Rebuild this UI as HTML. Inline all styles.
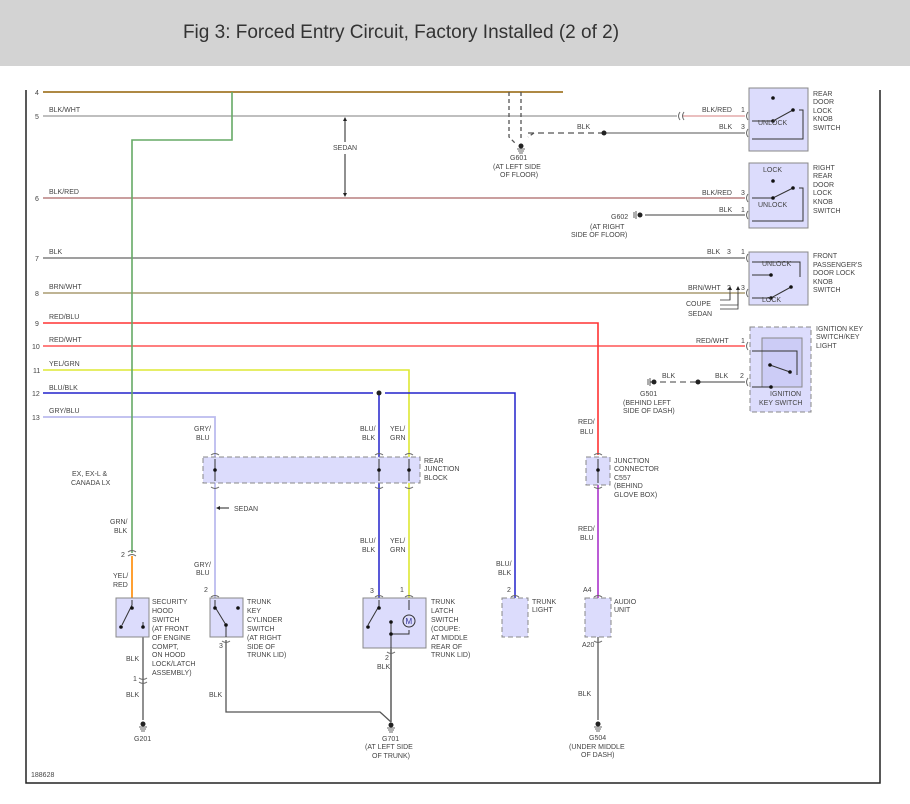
<!DOCTYPE html>
<html><head><meta charset="utf-8"><style>
html,body{margin:0;padding:0;background:#fff;}
svg{display:block}
text{font-family:"Liberation Sans",sans-serif;font-size:7px;fill:#444;}
.t{font-size:19px;fill:#333;}
</style></head><body>
<svg width="910" height="804" viewBox="0 0 910 804" xmlns="http://www.w3.org/2000/svg">
<rect x="0" y="0" width="910" height="66" fill="#d3d3d3"/>
<text x="401" y="38" class="t" text-anchor="middle">Fig 3: Forced Entry Circuit, Factory Installed (2 of 2)</text>
<!-- frame -->
<path d="M26 90 V783 H880 V90" fill="none" stroke="#222" stroke-width="1.5"/>

<!-- wires -->
<g fill="none" stroke-width="1.3">
<line x1="43" y1="92" x2="563" y2="92" stroke="#a3782a" stroke-width="1.8"/>
<line x1="43" y1="116" x2="677" y2="116" stroke="#999"/>
<line x1="683" y1="116" x2="745" y2="116" stroke="#d99"/>
<line x1="43" y1="198" x2="745" y2="198" stroke="#a66" />
<line x1="43" y1="258" x2="745" y2="258" stroke="#666"/>
<line x1="43" y1="293" x2="745" y2="293" stroke="#998855"/>
<path d="M43 323 H598 V455" stroke="#f33" stroke-width="1.6"/>
<line x1="43" y1="346" x2="745" y2="346" stroke="#f33"/>
<path d="M43 370 H409 V598" stroke="#dde833" stroke-width="1.6"/>
<path d="M43 393 H373 M385 393 H515 V598" stroke="#22c" stroke-width="1.5"/>
<line x1="379" y1="393" x2="379" y2="598" stroke="#22c" stroke-width="1.5"/>
<path d="M43 417 H215 V598" stroke="#bbe" stroke-width="1.8"/>
<path d="M232 92 V140 H132 V553" stroke="#6a6" stroke-width="1.6"/>
<line x1="132" y1="556" x2="132" y2="600" stroke="#f80" stroke-width="1.6"/>
<line x1="598" y1="485" x2="598" y2="598" stroke="#a3c" stroke-width="1.6"/>
<line x1="598" y1="637" x2="598" y2="720" stroke="#777" stroke-width="1.6"/>
<line x1="143" y1="627" x2="143" y2="720" stroke="#555" stroke-width="1.3"/>
<path d="M226 640 V712 H380 L391 722" stroke="#555"/>
<line x1="391" y1="648" x2="391" y2="722" stroke="#666" stroke-width="1.6"/>
<!-- G601 -->
<path d="M509 92 V137 L515 143 M521 92 V140 M534 133 L528 137" stroke="#555" stroke-dasharray="4,3"/>
<line x1="528" y1="133" x2="604" y2="133" stroke="#555" stroke-dasharray="6,4"/>
<line x1="604" y1="133" x2="745" y2="133" stroke="#777"/>
<!-- G602 -->
<line x1="645" y1="215" x2="745" y2="215" stroke="#666"/>
<!-- G501 -->
<line x1="650" y1="382" x2="698" y2="382" stroke="#666" stroke-dasharray="6,4"/>
<line x1="698" y1="382" x2="745" y2="382" stroke="#666"/>
<!-- sedan arrow -->
<path d="M345 120 V142 M345 154 V195" stroke="#222" stroke-width="1"/>
<path d="M238 468 H254 M217 508 H229" stroke="#222" stroke-width="1"/>
<path d="M810 300 V287 M800 305 H818 V287" stroke="#444" stroke-width="0.8" transform="translate(-80,0)"/>
</g>
<g fill="#222">
<path d="M345 117 l-2 4 h4z M345 197 l-2 -4 h4z"/>
<path d="M255 468 l-4 -2 v4z M216 508 l4 -2 v4z"/>
<path d="M730 286 l-2 4 h4z M738 286 l-2 4 h4z"/>
<circle cx="604" cy="133" r="2.5"/><circle cx="379" cy="393" r="2.5"/><circle cx="698" cy="382" r="2.5"/>
<circle cx="521" cy="146" r="2.5"/><circle cx="640" cy="215" r="2.5"/><circle cx="654" cy="382" r="2.5"/>
<circle cx="143" cy="724" r="2.5"/><circle cx="391" cy="725" r="2.5"/><circle cx="598" cy="724" r="2.5"/>
</g>
<g stroke="#333" stroke-width="0.8" fill="none">
<path d="M517 149 h8 M518 151 h6 M519 153 h4"/>
<path d="M139 727 h8 M140 729 h6 M141 731 h4"/>
<path d="M387 728 h8 M388 730 h6 M389 732 h4"/>
<path d="M594 727 h8 M595 729 h6 M596 731 h4"/>
<path d="M636 211 v8 M634 212 v6 M650 378 v8 M648 379 v6"/>
<path d="M730 293 V300 H720 M738 293 V309 H720" />
</g>
<g fill="none" stroke="#666" stroke-width="1"> <!-- connector arcs -->
<path d="M680 112 q-3 4 0 8 M684 112 q-3 4 0 8"/>
<path d="M748 112 q-3 4 0 8 M748 129 q-3 4 0 8 M748 194 q-3 4 0 8 M748 211 q-3 4 0 8 M748 254 q-3 4 0 8 M748 289 q-3 4 0 8 M748 342 q-3 4 0 8 M748 378 q-3 4 0 8"/>
<path d="M128 552 q4 -3 8 0 M128 556 q4 -3 8 0 M139 678 q4 3 8 0 M139 682 q4 3 8 0"/>
<path d="M211 455 q4 -3 8 0 M375 455 q4 -3 8 0 M405 455 q4 -3 8 0 M594 455 q4 -3 8 0 M211 487 q4 3 8 0 M375 487 q4 3 8 0 M405 487 q4 3 8 0 M594 487 q4 3 8 0"/>
<path d="M211 597 q4 -3 8 0 M375 597 q4 -3 8 0 M405 597 q4 -3 8 0 M511 597 q4 -3 8 0 M594 597 q4 -3 8 0 M222 641 q4 3 8 0 M387 652 q4 3 8 0 M594 641 q4 3 8 0"/>
</g>

<!-- boxes -->
<g fill="#dcdcfc" stroke="#888" stroke-width="1">
<rect x="749" y="88" width="59" height="63"/>
<rect x="749" y="163" width="59" height="65"/>
<rect x="749" y="252" width="59" height="53"/>
<rect x="750" y="327" width="61" height="85" stroke-dasharray="5,3"/>
<rect x="762" y="338" width="40" height="49" fill="#ccccf6"/>
<rect x="203" y="457" width="217" height="26" stroke-dasharray="5,3"/>
<rect x="586" y="457" width="24" height="28" stroke-dasharray="5,3"/>
<rect x="116" y="598" width="33" height="39"/>
<rect x="210" y="598" width="33" height="39"/>
<rect x="363" y="598" width="63" height="50"/>
<rect x="502" y="598" width="26" height="39" stroke-dasharray="5,3"/>
<rect x="585" y="598" width="26" height="39" stroke-dasharray="5,3"/>
</g>
<!-- switch internals -->
<g stroke="#333" stroke-width="1" fill="none">
<path d="M752 121 H773 L793 110 M799 110 H803 V139 H752"/>
<path d="M752 198 H773 L793 188 M799 188 H803 V221 H752"/>
<path d="M752 262 H800 V277 M752 275 H771 M752 298 H771 L791 287"/>
<path d="M752 351 H797 V375 M770 365 L790 372 M752 387 H771"/>
<path d="M132 600 V605 L122 625 M143 627 V622"/>
<path d="M215 600 V607 L226 625 V637"/>
<path d="M379 600 V606 L368 625 M409 600 V610 M409 630 V634 H391 M391 622 V648"/>
<path d="M215 459 V481 M379 459 V481 M409 459 V481 M598 459 V483"/>
</g>
<circle cx="409" cy="621" r="6" fill="#dcdcfc" stroke="#333"/>
<text x="405.5" y="624" style="font-size:8px;fill:#339">M</text>
<g fill="#111">
<circle cx="773" cy="98" r="1.8"/><circle cx="773" cy="121" r="1.8"/><circle cx="793" cy="110" r="1.8"/>
<circle cx="773" cy="181" r="1.8"/><circle cx="773" cy="198" r="1.8"/><circle cx="793" cy="188" r="1.8"/>
<circle cx="771" cy="275" r="1.8"/><circle cx="771" cy="298" r="1.8"/><circle cx="791" cy="287" r="1.8"/>
<circle cx="770" cy="365" r="1.8"/><circle cx="790" cy="372" r="1.8"/><circle cx="771" cy="387" r="1.8"/>
<circle cx="132" cy="608" r="1.8"/><circle cx="121" cy="627" r="1.8"/><circle cx="143" cy="627" r="1.8"/>
<circle cx="215" cy="608" r="1.8"/><circle cx="238" cy="608" r="1.8"/><circle cx="226" cy="625" r="1.8"/>
<circle cx="379" cy="608" r="1.8"/><circle cx="368" cy="627" r="1.8"/><circle cx="391" cy="622" r="1.8"/><circle cx="391" cy="634" r="1.8"/>
<circle cx="215" cy="470" r="1.8"/><circle cx="379" cy="470" r="1.8"/><circle cx="409" cy="470" r="1.8"/><circle cx="598" cy="470" r="1.8"/>
</g>

<!-- labels -->
<g>
<text x="35" y="95">4</text><text x="35" y="119">5</text><text x="35" y="201">6</text><text x="35" y="261">7</text><text x="35" y="296">8</text>
<text x="35" y="326">9</text><text x="32" y="349">10</text><text x="33" y="373">11</text><text x="32" y="396">12</text><text x="32" y="420">13</text>
<text x="49" y="112">BLK/WHT</text><text x="49" y="194">BLK/RED</text><text x="49" y="254">BLK</text><text x="49" y="289">BRN/WHT</text>
<text x="49" y="319">RED/BLU</text><text x="49" y="342">RED/WHT</text><text x="49" y="366">YEL/GRN</text><text x="49" y="390">BLU/BLK</text><text x="49" y="413">GRY/BLU</text>
<text x="333" y="150">SEDAN</text>
<text x="702" y="112">BLK/RED</text><text x="741" y="112">1</text><text x="719" y="129">BLK</text><text x="741" y="129">3</text><text x="577" y="129">BLK</text>
<text x="510" y="160">G601</text><text x="493" y="169">(AT LEFT SIDE</text><text x="500" y="177">OF FLOOR)</text>
<text x="702" y="195">BLK/RED</text><text x="741" y="195">3</text><text x="719" y="212">BLK</text><text x="741" y="212">1</text>
<text x="611" y="219">G602</text><text x="590" y="229">(AT RIGHT</text><text x="571" y="237">SIDE OF FLOOR)</text>
<text x="707" y="254">BLK</text><text x="727" y="254">3</text><text x="741" y="254">1</text>
<text x="688" y="290">BRN/WHT</text><text x="727" y="290">2</text><text x="741" y="290">3</text>
<text x="686" y="306">COUPE</text><text x="688" y="316">SEDAN</text>
<text x="696" y="343">RED/WHT</text><text x="741" y="343">1</text>
<text x="662" y="378">BLK</text><text x="715" y="378">BLK</text><text x="740" y="378">2</text>
<text x="640" y="396">G501</text><text x="623" y="405">(BEHIND LEFT</text><text x="623" y="413">SIDE OF DASH)</text>
<text x="758" y="125">UNLOCK</text>
<text x="763" y="172">LOCK</text><text x="758" y="207">UNLOCK</text>
<text x="762" y="266">UNLOCK</text><text x="762" y="302">LOCK</text>
<text x="770" y="396">IGNITION</text><text x="759" y="405">KEY SWITCH</text>
<text x="813" y="96">REAR</text><text x="813" y="104">DOOR</text><text x="813" y="113">LOCK</text><text x="813" y="121">KNOB</text><text x="813" y="130">SWITCH</text>
<text x="813" y="170">RIGHT</text><text x="813" y="178">REAR</text><text x="813" y="187">DOOR</text><text x="813" y="195">LOCK</text><text x="813" y="204">KNOB</text><text x="813" y="213">SWITCH</text>
<text x="813" y="258">FRONT</text><text x="813" y="267">PASSENGER'S</text><text x="813" y="275">DOOR LOCK</text><text x="813" y="284">KNOB</text><text x="813" y="292">SWITCH</text>
<text x="816" y="331">IGNITION KEY</text><text x="816" y="339">SWITCH/KEY</text><text x="816" y="348">LIGHT</text>
<text x="578" y="424">RED/</text><text x="580" y="434">BLU</text>
<text x="614" y="463">JUNCTION</text><text x="614" y="471">CONNECTOR</text><text x="614" y="480">C557</text><text x="614" y="488">(BEHIND</text><text x="614" y="497">GLOVE BOX)</text>
<text x="578" y="531">RED/</text><text x="580" y="540">BLU</text>
<text x="583" y="592">A4</text><text x="614" y="604">AUDIO</text><text x="614" y="612">UNIT</text>
<text x="582" y="647">A20</text><text x="578" y="696">BLK</text>
<text x="589" y="740">G504</text><text x="569" y="749">(UNDER MIDDLE</text><text x="581" y="757">OF DASH)</text>
<text x="496" y="566">BLU/</text><text x="498" y="575">BLK</text><text x="507" y="592">2</text>
<text x="532" y="604">TRUNK</text><text x="532" y="612">LIGHT</text>
<text x="194" y="431">GRY/</text><text x="196" y="440">BLU</text>
<text x="360" y="431">BLU/</text><text x="362" y="440">BLK</text><text x="390" y="431">YEL/</text><text x="390" y="440">GRN</text>
<text x="424" y="463">REAR</text><text x="424" y="471">JUNCTION</text><text x="424" y="480">BLOCK</text>
<text x="72" y="476">EX, EX-L &amp;</text><text x="71" y="485">CANADA LX</text>
<text x="234" y="511">SEDAN</text>
<text x="110" y="524">GRN/</text><text x="114" y="533">BLK</text>
<text x="360" y="543">BLU/</text><text x="362" y="552">BLK</text><text x="390" y="543">YEL/</text><text x="390" y="552">GRN</text>
<text x="121" y="557">2</text>
<text x="113" y="578">YEL/</text><text x="113" y="587">RED</text>
<text x="194" y="567">GRY/</text><text x="196" y="575">BLU</text>
<text x="204" y="592">2</text><text x="370" y="593">3</text><text x="400" y="592">1</text>
<text x="152" y="604">SECURITY</text><text x="152" y="613">HOOD</text><text x="152" y="622">SWITCH</text><text x="152" y="631">(AT FRONT</text><text x="152" y="640">OF ENGINE</text><text x="152" y="649">COMPT,</text><text x="152" y="657">ON HOOD</text><text x="152" y="666">LOCK/LATCH</text><text x="152" y="675">ASSEMBLY)</text>
<text x="247" y="604">TRUNK</text><text x="247" y="613">KEY</text><text x="247" y="622">CYLINDER</text><text x="247" y="631">SWITCH</text><text x="247" y="640">(AT RIGHT</text><text x="247" y="649">SIDE OF</text><text x="247" y="657">TRUNK LID)</text>
<text x="431" y="604">TRUNK</text><text x="431" y="613">LATCH</text><text x="431" y="622">SWITCH</text><text x="431" y="631">(COUPE:</text><text x="431" y="640">AT MIDDLE</text><text x="431" y="649">REAR OF</text><text x="431" y="657">TRUNK LID)</text>
<text x="219" y="648">3</text><text x="385" y="660">2</text><text x="377" y="669">BLK</text>
<text x="126" y="661">BLK</text><text x="133" y="681">1</text><text x="126" y="697">BLK</text><text x="209" y="697">BLK</text>
<text x="134" y="741">G201</text>
<text x="382" y="741">G701</text><text x="365" y="749">(AT LEFT SIDE</text><text x="372" y="758">OF TRUNK)</text>
<text x="31" y="777">188628</text>
</g>
</svg>
</body></html>
